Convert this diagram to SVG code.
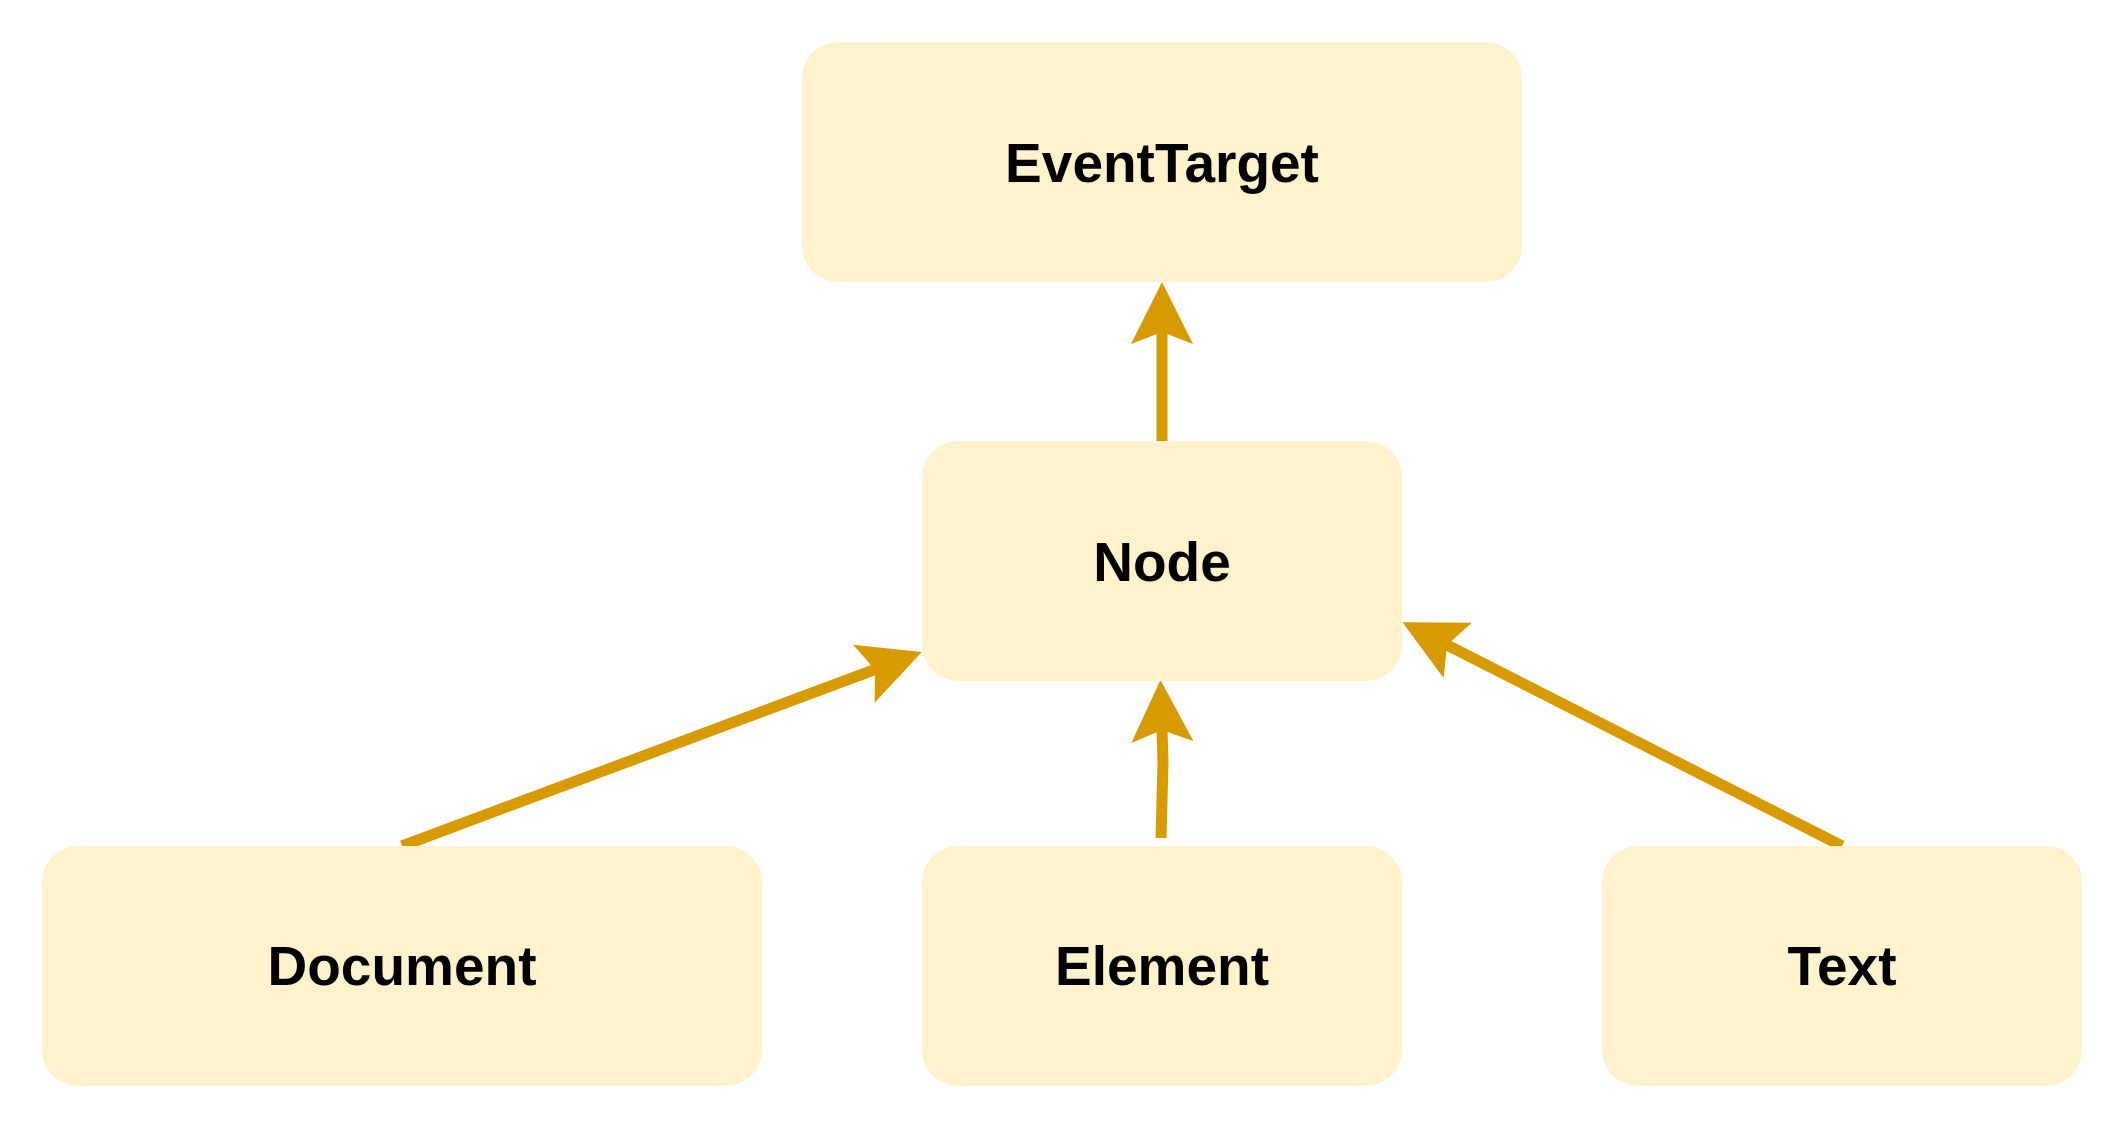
<svg xmlns="http://www.w3.org/2000/svg" width="2120" height="1124" viewBox="0 0 2120 1124">
<style>
.box{fill:#fff2cc;stroke:none}
.lbl{font-family:"Liberation Sans",Arial,sans-serif;font-weight:bold;font-size:55px;fill:#000;text-anchor:middle}
.edge{fill:none;stroke:#d79b00;stroke-width:11;stroke-linecap:butt;stroke-linejoin:miter;marker-end:url(#arr)}
</style>
<defs>
<marker id="arr" viewBox="0 0 62 62" markerUnits="userSpaceOnUse" markerWidth="62" markerHeight="62" refX="12" refY="31" orient="auto">
<path d="M62,31 L0,0 L12,31 L0,62 Z" fill="#d79b00"/>
</marker>
</defs>
<rect width="2120" height="1124" fill="#ffffff"/>
<g id="connectors">
<path class="edge" d="M1162,442 L1162,332"/>
<path class="edge" d="M1161,838 L1163,762 L1162,730"/>
<path class="edge" d="M402,846 L875,669.5"/>
<path class="edge" d="M1842,846 L1447,645"/>
</g>
<g id="node-eventtarget">
<rect class="box" x="802" y="42" width="720" height="240" rx="36" ry="36"/>
<text class="lbl" x="1162" y="182">EventTarget</text>
</g>
<g id="node-node">
<rect class="box" x="922" y="441" width="480" height="240" rx="36" ry="36"/>
<text class="lbl" x="1162" y="581">Node</text>
</g>
<g id="node-document">
<rect class="box" x="42" y="846" width="720" height="240" rx="36" ry="36"/>
<text class="lbl" x="402" y="985">Document</text>
</g>
<g id="node-element">
<rect class="box" x="922" y="846" width="480" height="240" rx="36" ry="36"/>
<text class="lbl" x="1162" y="985">Element</text>
</g>
<g id="node-text">
<rect class="box" x="1602" y="846" width="480" height="240" rx="36" ry="36"/>
<text class="lbl" x="1842" y="985">Text</text>
</g>
</svg>
